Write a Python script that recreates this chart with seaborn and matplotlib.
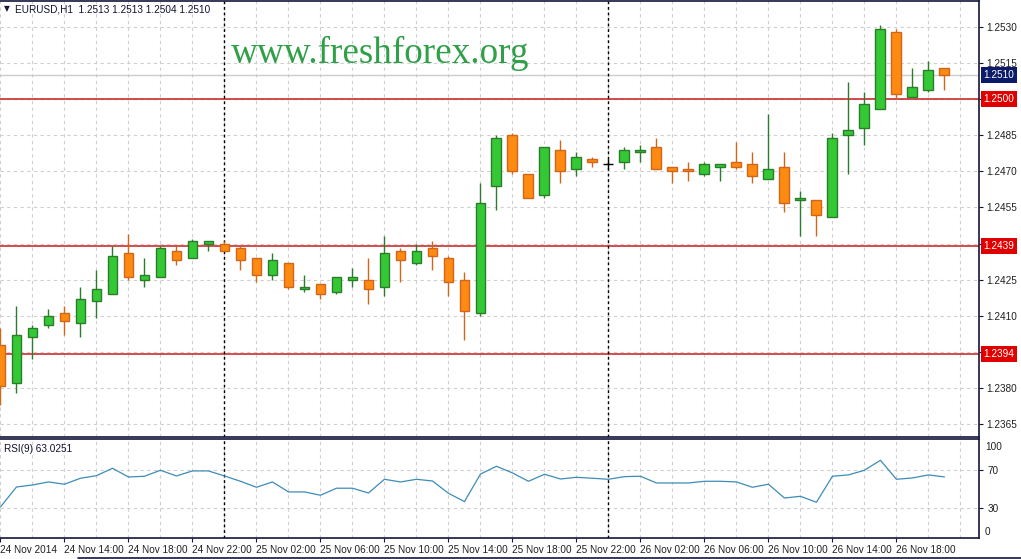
import numpy as np
import matplotlib
matplotlib.use('Agg')
import matplotlib.pyplot as plt
import matplotlib.transforms as mtrans
import seaborn as sns

# ─────────────────────────────────────────────
# DATA  (EURUSD H1, 24 Nov 10:00 -> 26 Nov 19:00)
# ─────────────────────────────────────────────
opens = [1.2398, 1.2382, 1.2401, 1.2406, 1.2411, 1.2407, 1.2416, 1.2419, 1.2436, 1.2425,
         1.2426, 1.2437, 1.2434, 1.2440, 1.2440, 1.2438, 1.2434, 1.2427, 1.2432, 1.2421,
         1.2423, 1.2420, 1.2425, 1.2425, 1.2422, 1.2437, 1.2432, 1.2438, 1.2434, 1.2425,
         1.2411, 1.2464, 1.2485, 1.2469, 1.2460, 1.2479, 1.2471, 1.2475, 1.2473, 1.2474,
         1.2478, 1.2480, 1.2472, 1.2471, 1.2469, 1.2472, 1.2474, 1.2473, 1.2467, 1.2472,
         1.2458, 1.2458, 1.2451, 1.2485, 1.2488, 1.2496, 1.2528, 1.2501, 1.2504, 1.2513]
highs = [1.2405, 1.2414, 1.2406, 1.2413, 1.2414, 1.2422, 1.2429, 1.2439, 1.2444, 1.2434,
         1.2439, 1.2439, 1.2442, 1.2441, 1.2441, 1.2439, 1.2434, 1.2436, 1.2432, 1.2427,
         1.2423, 1.2426, 1.2430, 1.2434, 1.2443, 1.2438, 1.2440, 1.2441, 1.2435, 1.2428,
         1.2465, 1.2485, 1.2486, 1.2469, 1.2480, 1.2483, 1.2478, 1.2476, 1.2475, 1.2480,
         1.2481, 1.2484, 1.2472, 1.2474, 1.2474, 1.2473, 1.2482, 1.2478, 1.2494, 1.2478,
         1.2462, 1.2458, 1.2486, 1.2507, 1.2503, 1.2531, 1.2529, 1.2513, 1.2516, 1.2513]
lows = [1.2373, 1.2378, 1.2392, 1.2405, 1.2402, 1.2401, 1.2409, 1.2419, 1.2425, 1.2422,
        1.2426, 1.2431, 1.2434, 1.2437, 1.2437, 1.2429, 1.2424, 1.2425, 1.2421, 1.2420,
        1.2417, 1.2419, 1.2422, 1.2415, 1.2418, 1.2424, 1.2431, 1.2429, 1.2418, 1.2400,
        1.2410, 1.2454, 1.2469, 1.2459, 1.2459, 1.2465, 1.2468, 1.2472, 1.2471, 1.2471,
        1.2474, 1.2471, 1.2465, 1.2466, 1.2468, 1.2466, 1.2471, 1.2465, 1.2467, 1.2453,
        1.2443, 1.2443, 1.2451, 1.2469, 1.2481, 1.2496, 1.2500, 1.2501, 1.2503, 1.2504]
closes = [1.2381, 1.2402, 1.2405, 1.2410, 1.2408, 1.2417, 1.2421, 1.2435, 1.2426, 1.2427,
          1.2438, 1.2433, 1.2441, 1.2441, 1.2437, 1.2433, 1.2427, 1.2433, 1.2422, 1.2422,
          1.2419, 1.2426, 1.2426, 1.2421, 1.2436, 1.2433, 1.2437, 1.2435, 1.2424, 1.2412,
          1.2457, 1.2484, 1.2470, 1.2459, 1.2480, 1.2470, 1.2476, 1.2474, 1.2473, 1.2479,
          1.2479, 1.2471, 1.2470, 1.2470, 1.2473, 1.2473, 1.2472, 1.2468, 1.2471, 1.2457,
          1.2459, 1.2452, 1.2484, 1.2487, 1.2498, 1.2529, 1.2502, 1.2505, 1.2512, 1.2510]
rsi_values = [31.4, 52.4, 54.5, 57.7, 55.3, 61.6, 64.3, 72.1, 62.9, 63.7,
              70.0, 64.0, 69.3, 69.3, 64.0, 58.4, 52.1, 57.7, 47.2, 47.2,
              43.7, 51.1, 51.1, 46.1, 60.5, 57.7, 60.5, 58.7, 45.8, 37.0,
              66.0, 74.2, 67.2, 58.4, 65.8, 60.8, 62.6, 61.6, 60.5, 63.3,
              63.7, 56.6, 56.6, 56.6, 58.4, 58.4, 57.7, 52.1, 55.3, 40.8,
              42.6, 36.3, 63.7, 65.1, 70.0, 80.5, 60.5, 61.9, 65.1, 63.0]
time_labels = ['24 Nov 2014', '24 Nov 14:00', '24 Nov 18:00', '24 Nov 22:00',
               '25 Nov 02:00', '25 Nov 06:00', '25 Nov 10:00', '25 Nov 14:00',
               '25 Nov 18:00', '25 Nov 22:00', '26 Nov 02:00', '26 Nov 06:00',
               '26 Nov 10:00', '26 Nov 14:00', '26 Nov 18:00']
day_breaks = [14, 38]                 # bars at 25 Nov 00:00 and 26 Nov 00:00
levels = [1.2500, 1.2439, 1.2394]     # red horizontal lines
bid = 1.2510
price_ticks = [1.2365, 1.2380, 1.2395, 1.2410, 1.2425, 1.2440,
               1.2455, 1.2470, 1.2485, 1.2500, 1.2515, 1.2530]
header = 'EURUSD,H1  1.2513 1.2513 1.2504 1.2510'
rsi_title = 'RSI(9) 63.0251'
watermark = 'www.freshforex.org'

bars = np.arange(len(opens))
o = np.array(opens); h = np.array(highs); l = np.array(lows); c = np.array(closes)

# ─────────────────────────────────────────────
# STYLE
# ─────────────────────────────────────────────
sns.set_theme(style='white')
plt.rcParams['font.family'] = ['Liberation Sans', 'DejaVu Sans']
FRAME = '#14143c'
GRID = '#cfcfcf'
UP_FILL, UP_EDGE = '#34c934', '#2b7d2b'
DN_FILL, DN_EDGE = '#ff8a12', '#d0661a'
FS = 7.2

W, H = 1021, 559
fig = plt.figure(figsize=(W / 100, H / 100), dpi=100, facecolor='white')
ax = fig.add_axes([0, 1 - 437 / H, 979 / W, 436 / H])
ax2 = fig.add_axes([0, 1 - 538 / H, 979 / W, 99 / H])

xlim = (-0.03, 61.16)

# ─────────────────────────────────────────────
# MAIN PRICE PANEL
# ─────────────────────────────────────────────
up = c > o
dn = c < o
doji = c == o
width = 0.62

ax.vlines(bars[up], l[up], h[up], colors=UP_EDGE, lw=1, zorder=3)
ax.vlines(bars[dn], l[dn], h[dn], colors=DN_EDGE, lw=1, zorder=3)
ax.vlines(bars[doji], l[doji], h[doji], colors='black', lw=1, zorder=3)
ax.hlines(c[doji], bars[doji] - width / 2, bars[doji] + width / 2, colors='black', lw=1, zorder=4)

ax.bar(bars[up], (c - o)[up], bottom=o[up], width=width, color=UP_FILL,
       edgecolor=UP_EDGE, linewidth=1, zorder=4)
ax.bar(bars[dn], (o - c)[dn], bottom=c[dn], width=width, color=DN_FILL,
       edgecolor=DN_EDGE, linewidth=1, zorder=4)

for lv in levels:
    ax.axhline(lv, color='#cc1a1a', lw=1.1, zorder=2)
ax.axhline(bid, color='#cccccc', lw=1, zorder=1.5)

ax.set_xlim(*xlim)
ax.set_ylim(1.23596, 1.25408)
ax.set_xticks(np.arange(0, 62, 2))
ax.set_xticklabels([])
# labels hidden behind the level boxes are left blank
covered = [1.2500, 1.2440, 1.2395]
ax.set_yticks(price_ticks)
ax.set_yticklabels(['' if t in covered else f'{t:.4f}' for t in price_ticks])
ax.yaxis.tick_right()
ax.tick_params(axis='y', length=3, width=0.8, color=FRAME, pad=2.5, labelsize=FS, labelcolor='#202020')
ax.tick_params(axis='x', length=0)
ax.grid(True, color=GRID, lw=0.8, linestyle=(0, (3, 3)), zorder=0)
ax.set_axisbelow(True)

for name, sp in ax.spines.items():
    sp.set_color(FRAME)
    sp.set_linewidth(1.2)
ax.spines['left'].set_visible(False)

# right axis labels for the levels and the bid price
blend = mtrans.blended_transform_factory(ax.transAxes, ax.transData)
for lv in levels:
    ax.text(1.0045, lv, f'{lv:.4f}', transform=blend, ha='left', va='center',
            fontsize=FS, color='white', clip_on=False, zorder=10,
            bbox=dict(boxstyle='square,pad=0.28', fc='#e00000', ec='none'))
ax.text(1.0045, bid, f'{bid:.4f}', transform=blend, ha='left', va='center',
        fontsize=FS, color='white', clip_on=False, zorder=10,
        bbox=dict(boxstyle='square,pad=0.28', fc='#0c1a6a', ec='none'))

# header and watermark
ax.text(4 / 979, 1 - 8 / 436, '▼', transform=ax.transAxes, fontsize=5.5,
        family='DejaVu Sans', color=FRAME, va='center', ha='left')
ax.text(15 / 979, 1 - 8.5 / 436, header, transform=ax.transAxes, fontsize=FS,
        color='#101030', va='center', ha='left')
ax.text(231 / 979, 1 - 62 / 436, watermark, transform=ax.transAxes,
        family='Liberation Serif', fontsize=26.7, color='#2f9f48',
        va='baseline', ha='left')

# ─────────────────────────────────────────────
# RSI PANEL
# ─────────────────────────────────────────────
sns.lineplot(x=bars, y=rsi_values, ax=ax2, color='#3d8cb8', lw=0.9, zorder=3)
ax2.set_xlim(*xlim)
ax2.set_ylim(-1.3, 102.9)
ax2.set_xticks(np.arange(0, 60, 4))
ax2.set_xticklabels(time_labels)
ax2.set_xticks(np.arange(0, 62, 2), minor=True)
for lab in ax2.get_xticklabels():
    lab.set_ha('left')
ax2.tick_params(axis='x', which='major', length=3, width=0.8, color=FRAME,
                pad=2, labelsize=FS, labelcolor='#202020', bottom=True)
ax2.tick_params(axis='x', which='minor', length=0, bottom=False)
ax2.set_yticks([30, 70])
ax2.yaxis.tick_right()
ax2.tick_params(axis='y', length=3, width=0.8, color=FRAME, pad=3, labelsize=FS,
                labelcolor='#202020')
ax2.grid(True, which='both', color=GRID, lw=0.8, linestyle=(0, (3, 3)), zorder=0)
ax2.set_axisbelow(True)
blend2 = mtrans.blended_transform_factory(ax2.transAxes, ax2.transData)
ax2.text(1.006, 100, '100', transform=blend2, ha='left', va='top', fontsize=FS,
         color='#202020', clip_on=False)
ax2.text(1.006, 0, '0', transform=blend2, ha='left', va='bottom', fontsize=FS,
         color='#202020', clip_on=False)
ax2.text(4 / 979, 1 - 10 / 99, rsi_title, transform=ax2.transAxes, fontsize=FS,
         color='#101030', va='center', ha='left')
for name, sp in ax2.spines.items():
    sp.set_color(FRAME)
    sp.set_linewidth(1.2)
ax2.spines['left'].set_visible(False)
ax2.set_xlabel('')
ax2.set_ylabel('')

# day separators across both panels
for a in (ax, ax2):
    for d in day_breaks:
        a.axvline(d, color='black', lw=1, linestyle=(0, (2, 2)), zorder=2)

# window border at the very bottom
fig.add_artist(plt.Line2D([78 / W, 1], [1 - 557.5 / H] * 2, color=FRAME, lw=1.2))

plt.savefig('out.png', dpi=100, facecolor='white')
